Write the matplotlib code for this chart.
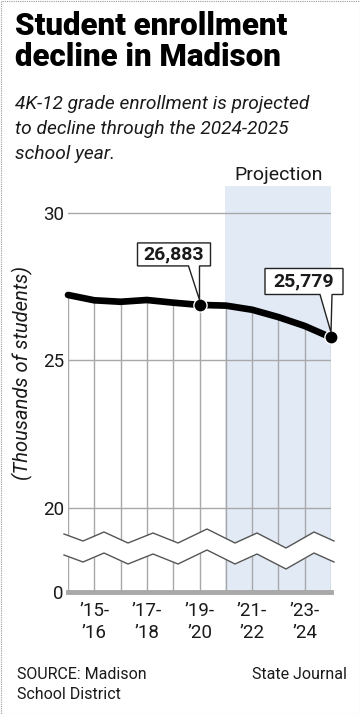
import matplotlib
matplotlib.use("Agg")
import matplotlib.pyplot as plt
import matplotlib.transforms as mtransforms
from matplotlib.patches import Polygon, Rectangle
import numpy as np

# data (thousands of students), school years '14-'15 ... '24-'25
years = ["'14-'15", "'15-'16", "'16-'17", "'17-'18", "'18-'19", "'19-'20",
         "'20-'21", "'21-'22", "'22-'23", "'23-'24", "'24-'25"]
enroll = [27.22, 27.04, 26.99, 27.05, 26.96, 26.883, 26.86, 26.72, 26.47, 26.17, 25.779]
proj_start = 6
tick_idx = [1, 3, 5, 7, 9]
tick_labels = ["\u201915-\n\u201916", "\u201917-\n\u201918", "\u201919-\n\u201920",
               "\u201921-\n\u201922", "\u201923-\n\u201924"]
callouts = [(5, "26,883"), (10, "25,779")]

plt.rcParams['font.family'] = ['Roboto', 'DejaVu Sans']
TXT = '#1a1a1a'
GRID = '#a8a8a8'
SHADE = '#e2eaf6'

# broken axis: 0..20 squeezed into a short strip
K = 2.85 / 20
def fwd(v):
    v = np.asarray(v, float)
    return np.where(v >= 20, v, 20 - (20 - v) * K)
def inv(u):
    u = np.asarray(u, float)
    return np.where(u >= 20, u, 20 - (20 - u) / K)

fig = plt.figure(figsize=(3.6, 7.14), dpi=100)
ax = fig.add_axes([68/360, 1-592/714, 263/360, 406/714])
ax.set_yscale('function', functions=(fwd, inv))
x = np.arange(len(enroll))
ax.set_xlim(0, len(enroll) - 1)
ax.set_ylim(0, 30.915)

ax.axvspan(proj_start - 0.02, len(enroll) - 1, color=SHADE, lw=0, zorder=0)
for v in [20, 25, 30]:
    ax.axhline(v, color=GRID, lw=1, zorder=1)
ax.vlines(x, 0, enroll, color=GRID, lw=1, zorder=1)
ax.axhline(0, color=GRID, lw=3.5, zorder=2, clip_on=False)

# zigzag break
zx = (np.array([64, 83, 104, 128, 153, 178, 207, 235, 257, 286, 314, 334]) - 68) / 26.3
zy_top = np.array([534, 541, 532, 543, 533, 543, 529, 543, 533, 548, 532, 541])
zy_bot = zy_top + 21
tb = ax.get_xaxis_transform()
top_f = (592 - zy_top) / 406
bot_f = (592 - zy_bot) / 406
ax.fill_between(zx, bot_f, top_f, transform=tb, color='white', lw=0, zorder=3, clip_on=False)
ax.plot(zx, top_f, transform=tb, color='#555555', lw=1, zorder=4, clip_on=False)
ax.plot(zx, bot_f, transform=tb, color='#555555', lw=1, zorder=4, clip_on=False)

ax.plot(x, enroll, color='black', lw=4.8, solid_capstyle='round', zorder=5, clip_on=False)
mi = [c[0] for c in callouts]
ax.plot(x[mi], np.array(enroll)[mi], 'o', ms=9.5, color='black', mec='white', mew=1,
        zorder=6, clip_on=False)

# callout boxes (geometry in pixels relative to the point)
shapes = {5: (-62, 11, 39, 62, -11, 0), 10: (-66, 12, 43, 69, -11, 1)}
for i, lab in callouts:
    l, r, b, t, nl, nr = shapes[i]
    tr = mtransforms.Affine2D().scale(1/100) + fig.dpi_scale_trans + \
        mtransforms.ScaledTranslation(x[i], enroll[i], ax.transData)
    verts = [(l, t), (r, t), (r, b), (nr, b), (0, 5), (nl, b), (l, b)]
    ax.add_patch(Polygon(verts, closed=True, fc='white', ec='#222222', lw=1,
                         transform=tr, zorder=7, clip_on=False))
    ax.text((l + r) / 2, (b + t) / 2, lab, transform=tr, ha='center', va='center',
            fontsize=14, fontweight='bold', color=TXT, zorder=8)

ax.set_yticks([0, 20, 25, 30], ['0', '20', '25', '30'])
ax.set_xticks(tick_idx, tick_labels)
ax.tick_params(axis='y', length=0, pad=3, labelsize=13.5, labelcolor=TXT)
ax.tick_params(axis='x', length=0, pad=7, labelsize=13.5, labelcolor=TXT)
for lbl in ax.get_xticklabels():
    lbl.set_linespacing(1.3)
for s in ax.spines.values():
    s.set_visible(False)

ax.text((proj_start + len(enroll) - 1) / 2, 1 + 2/406, "Projection", transform=tb,
        ha='center', va='bottom', fontsize=14, color=TXT)

fig.text(15/360, 1-11/714, "Student enrollment\ndecline in Madison", fontsize=22.5,
         fontweight='black', color='black', linespacing=1.05, va='top')
fig.text(15/360, 1-95/714, "4K-12 grade enrollment is projected\nto decline through the 2024-2025\nschool year.",
         fontsize=13.8, style='italic', color=TXT, linespacing=1.5, va='top')
fig.text(22/360, 1-373/714, "(Thousands of students)", rotation=90, ha='center', va='center',
         fontsize=14.5, style='italic', color=TXT)
fig.text(17/360, 1-667/714, "SOURCE: Madison\nSchool District", fontsize=11.5, color=TXT,
         va='top', linespacing=1.4)
fig.text(347/360, 1-667/714, "State Journal", fontsize=11.5, color=TXT, va='top', ha='right')

fig.patches.append(Rectangle((0.5/360, 0.5/714), 1 - 1/360, 1 - 1/714, transform=fig.transFigure,
                             fill=False, ec='#999999', lw=0.8, ls=(0, (1, 1))))

fig.savefig('out.png', dpi=100)
